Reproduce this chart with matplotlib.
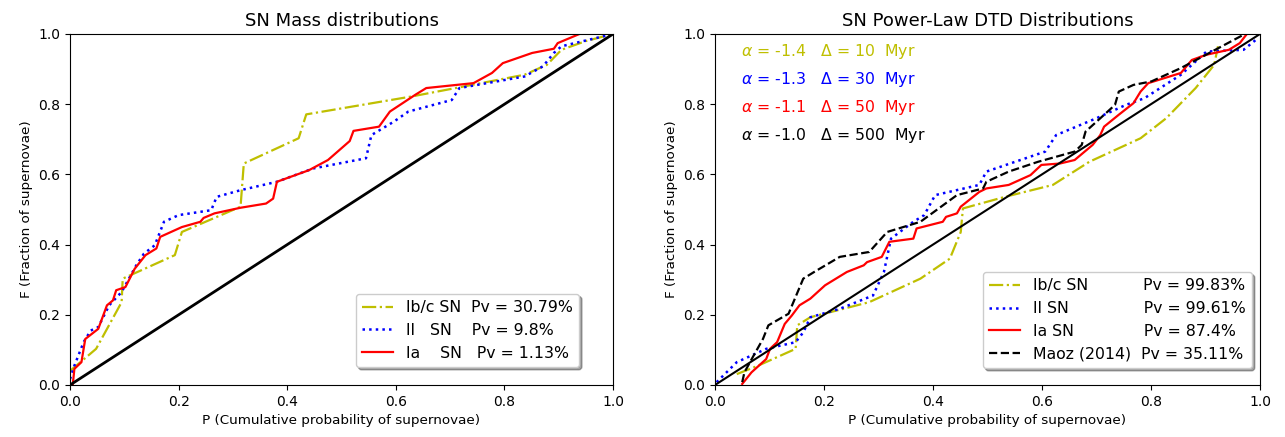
import numpy as np
import matplotlib
matplotlib.use('Agg')
import matplotlib.pyplot as plt

# ---- left panel: SN Mass distributions ----
mass_ibc_p = [0.0, 0.048, 0.095, 0.097, 0.193, 0.206, 0.314, 0.32, 0.421, 0.435,
              0.629, 0.71, 0.837, 0.878, 0.905, 0.95, 1.0]
mass_ibc_f = [0.04, 0.103, 0.236, 0.303, 0.37, 0.436, 0.508, 0.631, 0.703, 0.771,
              0.822, 0.846, 0.884, 0.912, 0.955, 0.98, 1.0]

mass_ii_p = [0.0, 0.008, 0.025, 0.038, 0.052, 0.072, 0.095, 0.122, 0.136, 0.156,
             0.173, 0.2, 0.26, 0.27, 0.314, 0.381, 0.448, 0.545, 0.555, 0.596,
             0.623, 0.703, 0.717, 0.837, 0.871, 0.891, 0.905, 1.0]
mass_ii_f = [0.017, 0.055, 0.122, 0.155, 0.165, 0.227, 0.265, 0.341, 0.374, 0.398,
             0.465, 0.484, 0.498, 0.536, 0.555, 0.579, 0.617, 0.646, 0.712, 0.75,
             0.779, 0.812, 0.846, 0.879, 0.908, 0.946, 0.965, 1.0]

mass_ia_p = [0.005, 0.008, 0.021, 0.028, 0.052, 0.068, 0.079, 0.085, 0.102, 0.119,
             0.139, 0.159, 0.166, 0.206, 0.24, 0.246, 0.266, 0.314, 0.361, 0.374,
             0.381, 0.44, 0.475, 0.515, 0.522, 0.569, 0.589, 0.636, 0.656, 0.743,
             0.777, 0.797, 0.851, 0.891, 0.898, 0.938]
mass_ia_f = [0.0, 0.046, 0.065, 0.131, 0.16, 0.227, 0.241, 0.27, 0.279, 0.331,
             0.37, 0.389, 0.422, 0.45, 0.465, 0.476, 0.489, 0.505, 0.517, 0.531,
             0.579, 0.612, 0.641, 0.695, 0.724, 0.736, 0.779, 0.827, 0.846, 0.86,
             0.889, 0.917, 0.946, 0.958, 0.974, 1.0]

mass_labels = ['Ib/c SN  Pv = 30.79%', 'II   SN    Pv = 9.8%', 'Ia    SN   Pv = 1.13%']

# ---- right panel: SN Power-Law DTD Distributions ----
dtd_ibc_p = [0.04, 0.079, 0.148, 0.151, 0.175, 0.283, 0.377, 0.431, 0.451, 0.455,
             0.532, 0.62, 0.687, 0.781, 0.828, 0.882, 0.916, 0.923]
dtd_ibc_f = [0.031, 0.055, 0.103, 0.17, 0.193, 0.236, 0.303, 0.36, 0.436, 0.503,
             0.536, 0.57, 0.636, 0.703, 0.76, 0.846, 0.912, 0.965]

dtd_ii_p = [0.003, 0.04, 0.094, 0.148, 0.162, 0.175, 0.229, 0.29, 0.31, 0.323,
            0.364, 0.384, 0.404, 0.485, 0.498, 0.606, 0.626, 0.7, 0.754, 0.788,
            0.855, 0.902, 0.97, 0.997]
dtd_ii_f = [0.008, 0.065, 0.103, 0.122, 0.15, 0.193, 0.217, 0.255, 0.322, 0.417,
            0.465, 0.484, 0.541, 0.57, 0.608, 0.665, 0.712, 0.76, 0.798, 0.817,
            0.884, 0.95, 0.955, 0.989]

dtd_ia_p = [0.05, 0.067, 0.094, 0.101, 0.114, 0.128, 0.141, 0.155, 0.175, 0.202,
            0.242, 0.273, 0.279, 0.306, 0.32, 0.364, 0.37, 0.418, 0.424, 0.444,
            0.451, 0.485, 0.498, 0.539, 0.579, 0.599, 0.633, 0.66, 0.693, 0.707,
            0.714, 0.741, 0.768, 0.781, 0.795, 0.855, 0.875, 0.902, 0.943, 0.963,
            0.976]
dtd_ia_f = [0.003, 0.036, 0.074, 0.103, 0.122, 0.174, 0.198, 0.227, 0.246, 0.284,
            0.322, 0.341, 0.35, 0.365, 0.408, 0.417, 0.446, 0.465, 0.479, 0.489,
            0.508, 0.55, 0.56, 0.57, 0.598, 0.627, 0.631, 0.641, 0.684, 0.712,
            0.736, 0.77, 0.803, 0.836, 0.86, 0.889, 0.926, 0.941, 0.955, 0.974,
            1.0]

maoz_p = [0.05, 0.054, 0.071, 0.088, 0.098, 0.135, 0.162, 0.182, 0.229, 0.283,
          0.316, 0.377, 0.444, 0.492, 0.498, 0.539, 0.593, 0.66, 0.673, 0.68,
          0.7, 0.734, 0.741, 0.768, 0.801, 0.855, 0.889, 0.97]
maoz_f = [0.008, 0.036, 0.084, 0.131, 0.17, 0.203, 0.303, 0.322, 0.365, 0.379,
          0.436, 0.465, 0.541, 0.56, 0.579, 0.608, 0.636, 0.665, 0.684, 0.722,
          0.75, 0.798, 0.836, 0.855, 0.865, 0.903, 0.931, 0.998]

dtd_labels = ['Ib/c SN           Pv = 99.83%',
              'II SN               Pv = 99.61%',
              'Ia SN              Pv = 87.4%',
              'Maoz (2014)  Pv = 35.11%']

dtd_params = [('y', '-1.4', '10'), ('b', '-1.3', '30'), ('r', '-1.1', '50'), ('k', '-1.0', '500')]

FS = 11.3

fig = plt.figure(figsize=(12.85, 4.37), dpi=100)
ax1 = fig.add_axes([0.0545, 0.119, 0.4226, 0.8032])
ax2 = fig.add_axes([0.5564, 0.119, 0.4241, 0.8032])

# left
ax1.plot(mass_ibc_p, mass_ibc_f, color='y', ls='-.', lw=1.6, label=mass_labels[0])
ax1.plot(mass_ii_p, mass_ii_f, color='b', ls=':', lw=1.8, label=mass_labels[1])
ax1.plot(mass_ia_p, mass_ia_f, color='r', ls='-', lw=1.6, label=mass_labels[2])
ax1.plot([0, 1], [0, 1], color='k', lw=2)
ax1.set_xlim(0, 1)
ax1.set_ylim(0, 1)
ax1.set_title('SN Mass distributions', fontsize=13)
ax1.set_xlabel('P (Cumulative probability of supernovae)', fontsize=9.7)
ax1.set_ylabel('F (Fraction of supernovae)', fontsize=9.7)
ax1.legend(loc='lower right', bbox_to_anchor=(0.9374, 0.0513), borderaxespad=0,
           shadow=True, fontsize=FS)

# right
ax2.plot(dtd_ibc_p, dtd_ibc_f, color='y', ls='-.', lw=1.6, label=dtd_labels[0])
ax2.plot(dtd_ii_p, dtd_ii_f, color='b', ls=':', lw=1.8, label=dtd_labels[1])
ax2.plot(dtd_ia_p, dtd_ia_f, color='r', ls='-', lw=1.6, label=dtd_labels[2])
ax2.plot(maoz_p, maoz_f, color='k', ls='--', lw=1.6, label=dtd_labels[3])
ax2.plot([0, 1], [0, 1], color='k', lw=1.5)
for i, (c, a, d) in enumerate(dtd_params):
    ax2.text(0.048, 0.95 - 0.08 * i, r'$\alpha$ = %s   $\Delta$ = %s  Myr' % (a, d),
             color=c, fontsize=11.3, va='center', transform=ax2.transAxes)
ax2.set_xlim(0, 1)
ax2.set_ylim(0, 1)
ax2.set_title('SN Power-Law DTD Distributions', fontsize=13)
ax2.set_xlabel('P (Cumulative probability of supernovae)', fontsize=9.7)
ax2.set_ylabel('F (Fraction of supernovae)', fontsize=9.7)
ax2.legend(loc='lower right', bbox_to_anchor=(0.9853, 0.0484), borderaxespad=0,
           shadow=True, fontsize=FS)

fig.savefig('out.png')
